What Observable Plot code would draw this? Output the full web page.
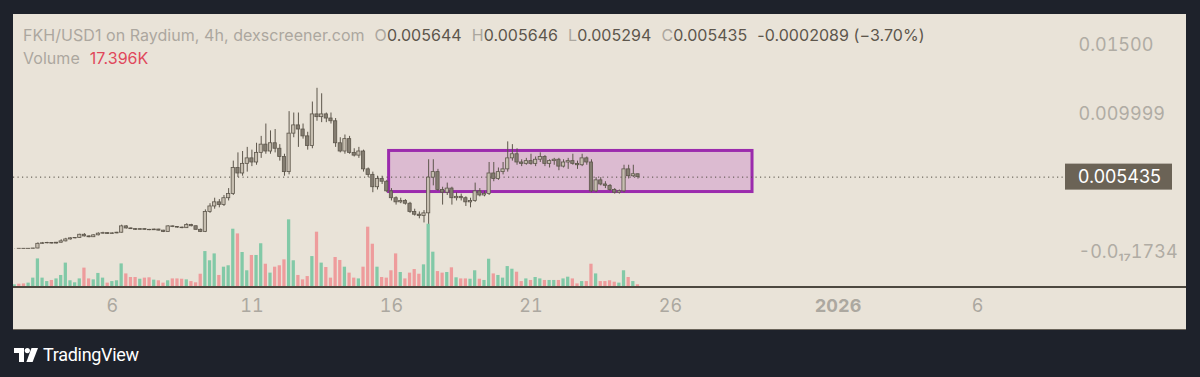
<!DOCTYPE html>
<html><head><meta charset="utf-8">
<script src="https://cdn.jsdelivr.net/npm/d3@7"></script>
<script src="https://cdn.jsdelivr.net/npm/@observablehq/plot@0.6"></script>
<style>
html,body{margin:0;padding:0;background:#1e222b;width:1200px;height:377px;overflow:hidden;font-family:Inter,"Noto Sans",sans-serif;}
#panel{position:absolute;left:13px;top:14px;width:1173px;height:316px;background:#e9e3d8;overflow:hidden;border-bottom:1px solid #6a645a;box-sizing:border-box;}
#vol,#price{position:absolute;left:0;top:0;}
#sep{position:absolute;left:0;top:272px;width:1173px;height:2px;background:#4d483f;}
.hdr{position:absolute;left:10px;font-size:16px;line-height:20px;white-space:nowrap;color:#aca79f;letter-spacing:0.05px;}
.hdr .v{color:#5d564c;}
.hdr .ml{margin-left:10px;}
.hdr .r{color:#e0485b;}
#logo{position:absolute;left:14px;top:344px;display:flex;align-items:center;color:#fff;font-family:Roboto,sans-serif;font-size:18px;letter-spacing:-0.3px;}
#logo svg{margin-right:5px;}
</style>
</head><body>
<div id="panel">
  <div id="vol"></div>
  <div id="sep"></div>
  <div id="price"></div>
  <div class="hdr" id="h1" style="top:11px"></div>
  <div class="hdr" id="h2" style="top:34px"></div>
</div>
<div id="logo"><svg width="24" height="14" viewBox="0 0 24 14"><path d="M0 0H10V14H5V5H0Z" fill="#fff"/><circle cx="13.3" cy="2.6" r="2.6" fill="#fff"/><path d="M17.5 0H24L18.6 14H12.4Z" fill="#fff"/></svg>TradingView</div>
<script>
// ---- data (4h candles, FKH/USD1) ----
const startTime = Date.UTC(2025, 11, 2, 12); // first candle
const stepHours = 4;
const open = [
.00022,.00022,.00022,.00021,.00022,.00024,.00058,.00062,.00064,.0006,
.00066,.00076,.0009,.00098,.00101,.00124,.00112,.00106,.0012,.00132,
.00136,.0013,.00134,.00139,.00185,.0017,.00165,.0016,.00165,.0016,
.00157,.00162,.00154,.00144,.00185,.0018,.00176,.00172,.00195,.00186,
.0016,.00145,.0029,.0033,.0036,.0034,.0039,.0042,.0061,.0057,
.0064,.0068,.0065,.0072,.0078,.0073,.0079,.0075,.0069,.0058,
.0086,.0092,.0089,.0084,.0077,.01,.0098,.01,.0097,.0095,
.0079,.0073,.0082,.0072,.007,.0073,.006,.0056,.0047,.0053,
.0051,.0044,.0039,.0036,.0037,.0035,.0029,.0027,.0026,.0028,
.0054,.0058,.0045,.0043,.0046,.0039,.004,.0039,.0036,.0037,
.0044,.0041,.0042,.0057,.0053,.0058,.006,.0068,.0071,.0065,
.0064,.0066,.0064,.0067,.0069,.0064,.0066,.0067,.0062,.0065,
.0066,.0064,.0063,.0068,.0065,.0044,.0052,.0049,.0048,.0045,
.0043,.0044,.006,.0055,.005644];
const high = [
.00023,.00023,.00022,.00022,.00025,.00065,.00068,.00069,.00066,.00068,
.00088,.00098,.00102,.00104,.00128,.00132,.00116,.00124,.00138,.00142,
.00138,.00138,.00142,.00194,.0019,.00174,.00168,.00168,.00168,.00163,
.00165,.00164,.00156,.0019,.00188,.00183,.0018,.00205,.002,.00188,
.00166,.00305,.0035,.0039,.0038,.0041,.0046,.0066,.0072,.0073,
.0076,.0074,.0079,.0084,.0093,.0088,.0089,.0078,.0071,.0102,
.0101,.0101,.0093,.0087,.0109,.0119,.0115,.0101,.0101,.0097,
.0083,.0085,.0084,.0075,.0076,.0074,.0061,.0058,.0055,.0055,
.0052,.0046,.004,.0039,.0038,.0036,.0031,.0029,.003,.0067,
.0067,.006,.0047,.005,.0047,.0043,.0042,.004,.0039,.005,
.0046,.0044,.0065,.0065,.0061,.0065,.008,.0078,.0075,.0067,
.0068,.0071,.0069,.0072,.007,.0067,.0068,.0068,.0067,.0068,
.0071,.0066,.0071,.0069,.0067,.0054,.0054,.0051,.0049,.0046,
.0045,.0063,.0063,.0063,.005646];
const low = [
.00021,.00021,.00021,.00021,.00021,.00022,.00055,.00058,.00057,.00058,
.00064,.00072,.00086,.00094,.00098,.00108,.00102,.00104,.00116,.00128,
.00126,.00127,.00131,.00136,.00166,.00162,.00156,.00158,.00157,.00154,
.00155,.00152,.0014,.00142,.00176,.00172,.00168,.0017,.00182,.00158,
.0014,.0014,.0028,.0031,.0032,.0033,.0037,.0041,.0054,.0055,
.0058,.0062,.0063,.0068,.0071,.0071,.0072,.0066,.0055,.0056,
.0083,.0076,.0082,.0074,.0075,.0095,.0094,.0094,.0093,.0076,
.0072,.0071,.0071,.0069,.0068,.0058,.0054,.0043,.0045,.0049,
.0043,.0037,.0034,.0035,.0034,.0028,.0026,.0024,.0021,.002,
.0048,.0044,.0034,.0041,.0034,.0037,.0037,.0033,.0032,.0036,
.004,.004,.0041,.0051,.0052,.0056,.0058,.0066,.0063,.0062,
.0063,.0063,.0062,.0065,.0062,.0061,.0063,.0059,.0061,.006,
.0063,.006,.0062,.0063,.0043,.0043,.0048,.0046,.0044,.0042,
.0042,.0043,.0053,.0054,.005294];
const close = [
.00022,.000218,.00021,.00022,.00024,.00058,.00062,.00064,.0006,.00066,
.00076,.0009,.00098,.00101,.00124,.00112,.00106,.0012,.00132,.00136,
.0013,.00134,.00139,.00185,.0017,.00165,.0016,.00165,.0016,.00157,
.00162,.00154,.00144,.00185,.0018,.00176,.00172,.00195,.00186,.0016,
.00145,.0029,.0033,.0036,.0034,.0039,.0042,.0061,.0057,.0064,
.0068,.0065,.0072,.0078,.0073,.0079,.0075,.0069,.0058,.0086,
.0092,.0089,.0084,.0077,.01,.0098,.01,.0097,.0095,.0079,
.0073,.0082,.0072,.007,.0073,.006,.0056,.0047,.0053,.0051,
.0044,.0039,.0036,.0037,.0035,.0029,.0027,.0026,.0028,.0054,
.0058,.0045,.0043,.0046,.0039,.004,.0039,.0036,.0037,.0044,
.0041,.0042,.0057,.0053,.0058,.006,.0068,.0071,.0065,.0064,
.0066,.0064,.0067,.0069,.0064,.0066,.0067,.0062,.0065,.0066,
.0064,.0063,.0068,.0065,.0044,.0052,.0049,.0048,.0045,.0043,
.0044,.006,.0055,.005644,.005435];
const volumeK = [
17,21,23,28,60,183,60,38,45,55,
77,156,43,30,55,124,55,49,90,60,
28,38,43,151,87,64,64,53,60,62,
47,43,28,43,55,55,53,49,38,30,
85,230,171,215,77,130,139,373,343,224,
107,205,205,280,149,92,130,139,177,433,
171,77,49,70,198,354,156,128,60,192,
173,130,92,60,55,130,386,277,130,64,
60,107,215,96,55,92,115,85,145,405,
226,102,92,96,126,62,55,55,53,107,
53,45,181,87,77,60,134,117,98,38,
55,45,64,55,45,45,45,45,55,66,
55,23,38,38,149,87,38,38,43,34,
28,107,64,38,17.396];

// rectangle drawing (range box)
const boxStart = ["2025-12-15T22:00Z"], boxEnd = ["2025-12-28T22:30Z"];
const boxTop = [0.00734], boxBottom = [0.00435];

// axes
const xTickDates = ["2025-12-06","2025-12-11","2025-12-16","2025-12-21","2025-12-26","2026-01-01","2026-01-06"];
const xTickLabels = ["6","11","16","21","26","2026","6"];
const yTickValues = [0.015, 0.009999, 0];
const yTickLabels = ["0.01500", "0.009999", "-0.0\u2081\u20871734"];

// header texts
const title = "FKH/USD1 on Raydium, 4h, dexscreener.com";
const changeText = "-0.0002089 (\u22123.70%)";
const volumeText = "17.396K";

// ---- layout ----
const W = 1173, H = 316, MR = 120, MB = 43;
const xDomain = [new Date(Date.UTC(2025, 11, 2, 11)), new Date(Date.UTC(2026, 0, 9, 4, 30))];
const yDomain = [-0.002598, 0.017271];

const rows = close.map((c, i) => ({
  t: new Date(startTime + i * stepHours * 3600e3),
  o: open[i], h: high[i], l: low[i], c, v: volumeK[i], up: c >= open[i]
}));
const half = 1.4 * 3600e3;
const x1 = d => new Date(+d.t - half), x2 = d => new Date(+d.t + half);

const volPlot = Plot.plot({
  width: W, height: H - MB, marginTop: 0, marginBottom: 0, marginLeft: 0, marginRight: MR,
  style: {background: "transparent"},
  x: {type: "utc", domain: xDomain, axis: null},
  y: {domain: [0, 1747], axis: null},
  marks: [
    Plot.rectY(rows, {x1, x2, y: "v", fill: d => d.up ? "#82c9a7" : "#ee9c9c"})
  ]
});
document.getElementById("vol").appendChild(volPlot);

const box = [{t1: new Date(boxStart[0]), t2: new Date(boxEnd[0]), p1: boxBottom[0], p2: boxTop[0]}];
const tickDates = xTickDates.map(s => new Date(s + "T00:00Z"));
const labelOf = d => xTickLabels[tickDates.findIndex(t => +t === +d)];
const last = rows[rows.length - 1];

const pricePlot = Plot.plot({
  width: W, height: H, marginTop: 0, marginBottom: MB, marginLeft: 0, marginRight: MR,
  style: {background: "transparent", fontFamily: "Inter, sans-serif", overflow: "visible"},
  x: {type: "utc", domain: xDomain},
  y: {domain: yDomain},
  marks: [
    Plot.rect(box, {x1: "t1", x2: "t2", y1: "p1", y2: "p2", fill: "#c060c0", fillOpacity: 0.3, stroke: "#9b2bad", strokeWidth: 3}),
    Plot.ruleY([last.c], {stroke: "#514b42", strokeWidth: 1, strokeDasharray: "1.2,3.3"}),
    Plot.ruleX(rows, {x: "t", y1: "l", y2: "h", stroke: "#5d564b", strokeWidth: 1}),
    Plot.rect(rows, {x1, x2, y1: "o", y2: "c", fill: d => d.up ? "#c6beb0" : "#847d71", stroke: "#5d564b", strokeWidth: 0.8}),
    Plot.axisX({ticks: tickDates.filter(d => labelOf(d) !== "2026"), tickFormat: labelOf, tickSize: 0, tickPadding: 12, fontSize: 18, color: "#aca8a0"}),
    Plot.axisX({ticks: tickDates.filter(d => labelOf(d) === "2026"), tickFormat: labelOf, tickSize: 0, tickPadding: 12, fontSize: 18, fontWeight: "bold", color: "#aca8a0"}),
    Plot.axisY({anchor: "right", ticks: yTickValues, tickFormat: d => yTickLabels[yTickValues.indexOf(d)], tickSize: 0, tickPadding: 12, textAnchor: "start", fontSize: 18, color: "#b0aca4"})
  ]
});
document.getElementById("price").appendChild(pricePlot);

// last price label on the price scale
const py = pricePlot.scale("y").apply(last.c);
const g = d3.select(pricePlot).append("g").attr("text-anchor", "start");
g.append("rect").attr("x", W - MR - 1).attr("y", py - 13).attr("width", 107).attr("height", 26).attr("fill", "#6b6356");
g.append("text").attr("x", W - MR + 12).attr("y", py).attr("dy", "0.36em").attr("fill", "#ffffff")
  .attr("text-anchor", "start").attr("font-size", 18).attr("font-family", "Inter, sans-serif").text(last.c.toFixed(6));

// header legend
const f6 = v => v.toFixed(6);
document.getElementById("h1").innerHTML =
  `<span>${title}</span>` +
  `<span class="ml">O</span><span class="v">${f6(last.o)}</span>` +
  `<span class="ml">H</span><span class="v">${f6(last.h)}</span>` +
  `<span class="ml">L</span><span class="v">${f6(last.l)}</span>` +
  `<span class="ml">C</span><span class="v">${f6(last.c)}</span>` +
  `<span class="v ml">${changeText}</span>`;
document.getElementById("h2").innerHTML = `<span>Volume</span><span class="r ml">${volumeText}</span>`;
</script>
</body></html>
